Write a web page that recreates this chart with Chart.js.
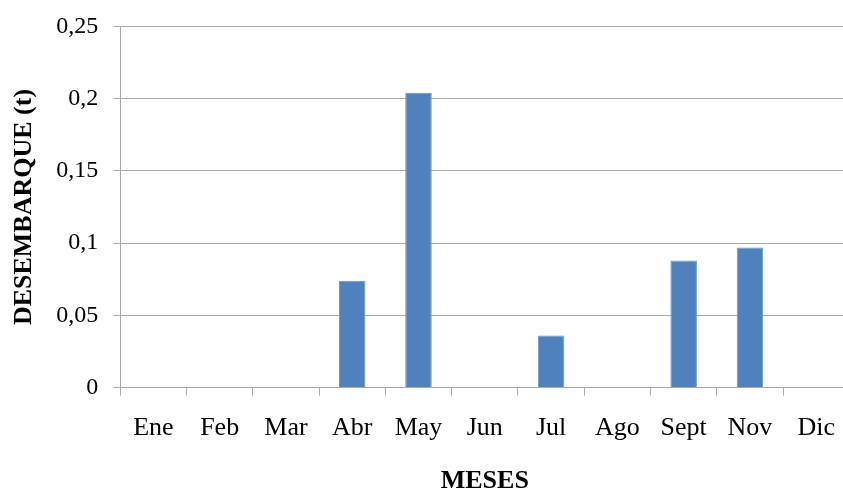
<!DOCTYPE html>
<html>
<head>
<meta charset="utf-8">
<script src="https://cdn.jsdelivr.net/npm/chart.js@4"></script>
<style>
  html, body { margin: 0; padding: 0; background: #fff; overflow: hidden; }
  #wrap { width: 843px; height: 492px; overflow: hidden; }
</style>
</head>
<body>
<div id="wrap"><canvas id="chart" width="852" height="497"></canvas></div>
<script>
// meses y desembarque (t)
const meses = ['Ene', 'Feb', 'Mar', 'Abr', 'May', 'Jun', 'Jul', 'Ago', 'Sept', 'Nov', 'Dic'];
const desembarque = [0, 0, 0, 0.074, 0.204, 0, 0.036, 0, 0.088, 0.097, 0];
const yTicks = [0, 0.05, 0.1, 0.15, 0.2, 0.25];

const serif = '"Liberation Serif", "Times New Roman", serif';
const gridGray = '#a8a8a8';

new Chart(document.getElementById('chart'), {
	type: 'bar',
	data: {
		labels: meses,
		datasets: [{
			label: 'DESEMBARQUE (t)',
			data: desembarque,
			backgroundColor: '#4F81BD',
			borderColor: '#6a94c9',
			borderWidth: 1,
			barPercentage: 0.4,
			categoryPercentage: 1
		}]
	},
	options: {
		responsive: false,
		animation: false,
		layout: {
			padding: { top: 0, right: 0, bottom: 0, left: 0 }
		},
		plugins: {
			legend: { display: false },
			tooltip: { enabled: false }
		},
		scales: {
			x: {
				grid: {
					offset: true,
					drawOnChartArea: false,
					drawTicks: true,
					tickLength: 8,
					color: gridGray
				},
				border: { color: gridGray },
				ticks: {
					color: '#000',
					padding: 17,
					maxRotation: 0,
					font: { family: serif, size: 26 }
				},
				title: {
					display: true,
					text: 'MESES',
					color: '#000',
					padding: { top: 5, bottom: 0 },
					font: { family: serif, size: 26, weight: 'bold' }
				}
			},
			y: {
				min: 0,
				max: 0.25,
				afterBuildTicks(axis) {
					axis.ticks = yTicks.map(v => ({ value: v }));
				},
				grid: {
					color: gridGray,
					tickLength: 7
				},
				border: { color: gridGray },
				ticks: {
					color: '#000',
					padding: 15,
					font: { family: serif, size: 24, lineHeight: 0.95 },
					callback: v => String(Number(v.toFixed(2))).replace('.', ',')
				},
				title: {
					display: true,
					text: 'DESEMBARQUE (t)',
					color: '#000',
					padding: { top: 9, bottom: 1 },
					font: { family: serif, size: 26, weight: 'bold' }
				}
			}
		}
	}
});
</script>
</body>
</html>
